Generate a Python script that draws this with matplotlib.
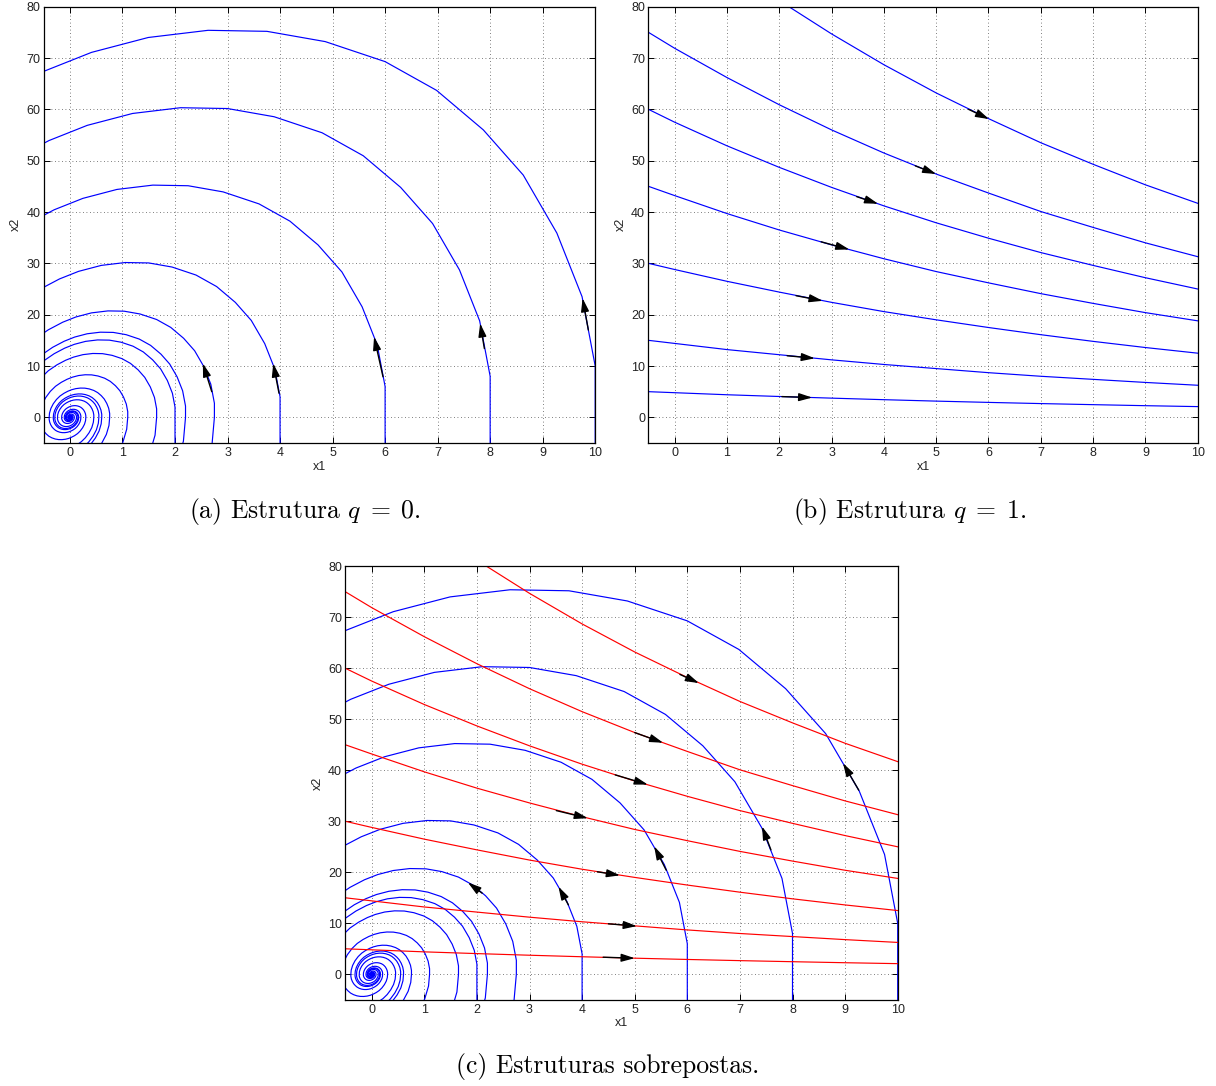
import numpy as np
import matplotlib
matplotlib.use("Agg")
import matplotlib.pyplot as plt

# ---------------- structure q = 0 (stable focus) ----------------
# one turn of the spiral through (1, 0) (a) and normalised
rev_x1 = [1.000, 1.000, 0.975, 0.927, 0.863, 0.787, 0.698, 0.600, 0.486, 0.375,
          0.263, 0.149, 0.041, -0.050, -0.150, -0.250, -0.340, -0.420, -0.480, -0.515,
          -0.524, -0.524, -0.511, -0.486, -0.452, -0.412, -0.366, -0.314, -0.255, -0.197,
          -0.138, -0.078, -0.021, 0.026, 0.079, 0.131, 0.178, 0.220, 0.252, 0.270]
rev_x2 = [0.00, 1.00, 2.35, 3.59, 4.72, 5.60, 6.37, 6.93, 7.32, 7.52,
          7.54, 7.40, 7.11, 6.74, 6.20, 5.50, 4.60, 3.50, 2.30, 1.10,
          0.00, -0.52, -1.23, -1.88, -2.47, -2.93, -3.34, -3.63, -3.84, -3.94,
          -3.95, -3.88, -3.73, -3.53, -3.25, -2.88, -2.41, -1.83, -1.21, -0.58]

# starting points of the q = 0 trajectories
q0_start_x1 = [10, 8, 6, 4, 2]
q0_start_x2 = [-5, -5, -5, -5, -5]
# x1 value where each trajectory crosses x2 = 0 on the right, turn by turn
q0_turns = [
    [10.0, 2.75, 0.756, 0.208, 0.057, 0.0157, 0.0043],
    [8.0, 2.20, 0.605, 0.166, 0.046, 0.0126, 0.0035],
    [6.0, 1.65, 0.454, 0.125, 0.034, 0.0094],
    [4.0, 1.10, 0.302, 0.083, 0.023, 0.0063],
    [2.0, 0.55, 0.151, 0.042, 0.0114, 0.0031],
]

# ---------------- structure q = 1 ----------------
q1_x1 = [-0.5, 0, 1, 2, 3, 4, 5, 6, 7, 8, 9, 10]
q1_x2_5 = [5.0, 4.8, 4.4, 4.06, 3.74, 3.44, 3.16, 2.91, 2.68, 2.47, 2.27, 2.09]
q1_x2_15 = [15.0, 14.4, 13.2, 12.2, 11.2, 10.3, 9.5, 8.7, 8.0, 7.4, 6.8, 6.25]
q1_x2_30 = [30.0, 28.8, 26.5, 24.4, 22.4, 20.6, 19.0, 17.5, 16.1, 14.8, 13.6, 12.5]
q1_x2_45 = [45.0, 43.2, 39.7, 36.5, 33.6, 30.9, 28.4, 26.2, 24.1, 22.2, 20.4, 18.8]
q1_x2_60 = [60.0, 57.5, 52.9, 48.7, 44.8, 41.2, 37.9, 34.9, 32.1, 29.6, 27.2, 25.0]
q1_x2_75 = [75.0, 71.9, 66.2, 60.9, 56.0, 51.5, 47.4, 43.7, 40.1, 37.0, 34.0, 31.3]
q1_x2_100 = [100.0, 95.9, 88.2, 81.2, 74.7, 68.7, 63.2, 58.2, 53.5, 49.3, 45.3, 41.7]
q1_curves = [q1_x2_5, q1_x2_15, q1_x2_30, q1_x2_45, q1_x2_60, q1_x2_75, q1_x2_100]

# direction arrows: (tail x1, tail x2, tip x1, tip x2)
arrows_a = [(9.87, 17.0, 9.76, 23.2), (7.89, 13.4, 7.81, 18.3), (5.96, 7.9, 5.79, 15.7),
            (3.98, 4.7, 3.87, 10.5), (2.70, 5.0, 2.53, 10.5)]
arrows_b = [(2.05, 4.04, 2.63, 3.85), (2.15, 12.0, 2.68, 11.5), (2.32, 23.7, 2.83, 22.7),
            (2.80, 34.2, 3.34, 32.7), (3.48, 43.0, 3.89, 41.6), (4.60, 49.0, 5.00, 47.4),
            (5.62, 60.0, 6.01, 58.1)]
arrows_c_blue = [(9.26, 36.1, 8.96, 41.4), (7.59, 24.4, 7.42, 29.0), (5.60, 20.4, 5.37, 25.1),
                 (3.74, 13.6, 3.55, 17.2), (2.10, 15.9, 1.83, 18.0)]
arrows_c_red = [(4.40, 3.35, 5.00, 3.16), (4.50, 9.9, 5.04, 9.45), (4.29, 20.1, 4.72, 19.4),
                (3.51, 32.1, 4.11, 30.6), (4.63, 39.1, 5.25, 37.2), (5.00, 47.4, 5.54, 45.4),
                (5.86, 58.8, 6.22, 57.1)]

x_ticks = list(range(0, 11))
y_ticks = list(range(0, 81, 10))
captions = [r"(a) Estrutura $q\;=\;0$.", r"(b) Estrutura $q\;=\;1$.", "(c) Estruturas sobrepostas."]

BLUE = "#0000ff"
RED = "#ff0000"

plt.rcParams["mathtext.fontset"] = "cm"

fig = plt.figure(figsize=(12.16, 10.86), dpi=100)
H = 1086.0
W = 1216.0
TFS = 9.0


def make_axes(left_px, right_px, top_px, bottom_px):
    ax = fig.add_axes([left_px / W, 1 - bottom_px / H, (right_px - left_px) / W,
                       (bottom_px - top_px) / H])
    ax.set_xlim(-0.5, 10)
    ax.set_ylim(-5, 80)
    ax.set_xticks(x_ticks)
    ax.set_yticks(y_ticks)
    ax.set_xticklabels([str(t) for t in x_ticks], fontsize=TFS, fontfamily="Liberation Sans",
                       color="#222222")
    ax.set_yticklabels([str(t) for t in y_ticks], fontsize=TFS, fontfamily="Liberation Sans",
                       color="#222222")
    ax.tick_params(direction="in", length=4, width=0.7, top=True, right=True)
    ax.tick_params(axis="x", pad=3.0)
    ax.tick_params(axis="y", pad=2.5)
    for sp in ax.spines.values():
        sp.set_linewidth(0.9)
        sp.set_color("black")
    ax.grid(True, color="#555555", linestyle=(0, (1, 3.2)), linewidth=0.6)
    ax.set_axisbelow(True)
    ax.set_xlabel("x1", fontsize=TFS, fontfamily="Liberation Sans", labelpad=1.0, color="#222222")
    ax.set_ylabel("x2", fontsize=TFS, fontfamily="Liberation Sans", labelpad=3, color="#222222")
    return ax


def draw_q0(ax):
    rx = np.array(rev_x1)
    ry = np.array(rev_x2)
    for sx, sy, turns in zip(q0_start_x1, q0_start_x2, q0_turns):
        xs = [np.array([sx])]
        ys = [np.array([sy])]
        for s in turns:
            xs.append(rx * s)
            ys.append(ry * s)
        ax.plot(np.concatenate(xs), np.concatenate(ys), color=BLUE, lw=0.85)


def draw_q1(ax, color):
    for c in q1_curves:
        ax.plot(q1_x1, c, color=color, lw=0.85)


def draw_arrows(ax, arrows):
    for tx, ty, hx, hy in arrows:
        ax.annotate("", xy=(hx, hy), xytext=(tx, ty),
                    arrowprops=dict(arrowstyle="-|>,head_length=0.8,head_width=0.24",
                                    color="black", lw=1.0, mutation_scale=10,
                                    shrinkA=0, shrinkB=0))


ax_a = make_axes(43.7, 595.2, 6.7, 443.0)
draw_q0(ax_a)
draw_arrows(ax_a, arrows_a)

ax_b = make_axes(648.5, 1197.7, 6.7, 443.0)
draw_q1(ax_b, BLUE)
draw_arrows(ax_b, arrows_b)

ax_c = make_axes(345.4, 897.7, 566.3, 999.8)
draw_q0(ax_c)
draw_q1(ax_c, RED)
draw_arrows(ax_c, arrows_c_blue)
draw_arrows(ax_c, arrows_c_red)

cap_pos = [(305, 511), (910, 511), (608, 1066)]
for (cx, cy), txt in zip(cap_pos, captions):
    fig.text(cx / W, 1 - cy / H, txt, ha="center", va="center", fontsize=18.5,
             fontfamily="cmr10")

fig.savefig("out.png", dpi=100, facecolor="white")
